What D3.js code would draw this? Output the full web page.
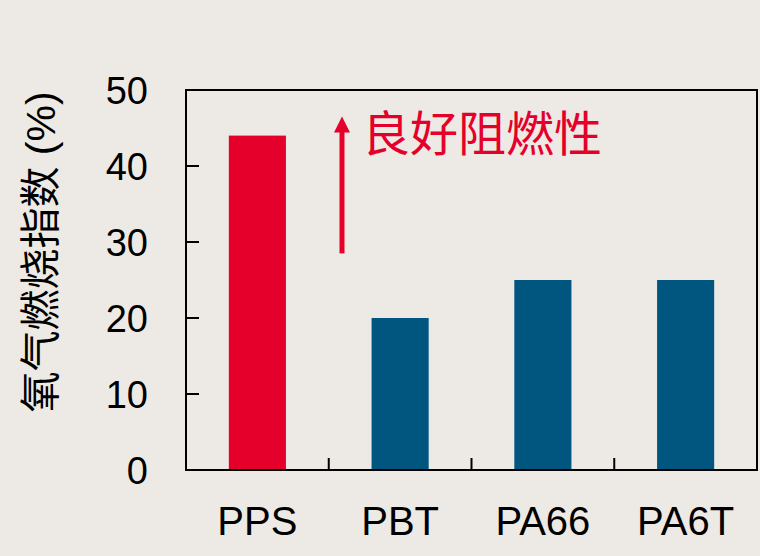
<!DOCTYPE html>
<meta charset="utf-8">
<style>
  body { margin: 0; background: #ede9e4; }
  svg { display: block; }
  text { font-family: "Liberation Sans", Arial, "Noto Sans CJK SC", sans-serif; fill: #000; }
</style>
<body>
<script src="https://d3js.org/d3.v7.min.js"></script>
<script>
  // data
  var materials = ["PPS", "PBT", "PA66", "PA6T"];
  var loi = [44, 20, 25, 25];
  var yTicks = [0, 10, 20, 30, 40, 50];
  var barColors = ["#e4002b", "#00567f", "#00567f", "#00567f"];
  var noteText = "良好阻燃性";
  var noteArrow = [28.5, 46.5]; // arrow from / to, in LOI units
  var yTitle = "氧气燃烧指数 (%)";

  var width = 760, height = 556;
  var margin = { top: 90, right: 3, bottom: 86, left: 186 };

  var svg = d3.select("body").append("svg")
      .attr("width", width)
      .attr("height", height);

  var x = d3.scaleBand()
      .domain(materials)
      .range([margin.left, width - margin.right])
      .paddingInner(0.6)
      .paddingOuter(0.3);

  var y = d3.scaleLinear()
      .domain([0, 50])
      .range([height - margin.bottom, margin.top]);

  // bars
  svg.selectAll("rect.bar")
    .data(materials)
    .enter().append("rect")
      .attr("class", "bar")
      .attr("x", function(d) { return x(d); })
      .attr("width", x.bandwidth())
      .attr("y", function(d, i) { return y(loi[i]); })
      .attr("height", function(d, i) { return y(0) - y(loi[i]); })
      .attr("fill", function(d, i) { return barColors[i]; });

  // frame
  svg.append("rect")
      .attr("x", margin.left)
      .attr("y", margin.top)
      .attr("width", width - margin.right - margin.left)
      .attr("height", height - margin.bottom - margin.top)
      .attr("fill", "none")
      .attr("stroke", "#000")
      .attr("stroke-width", 2);

  // y ticks (inside) and labels
  svg.selectAll("line.ytick")
    .data(yTicks.slice(1, -1))
    .enter().append("line")
      .attr("x1", margin.left).attr("x2", margin.left + 13)
      .attr("y1", function(d) { return y(d); })
      .attr("y2", function(d) { return y(d); })
      .attr("stroke", "#000").attr("stroke-width", 2);

  svg.selectAll("text.ylab")
    .data(yTicks)
    .enter().append("text")
      .attr("x", 148)
      .attr("y", function(d) { return y(d); })
      .attr("dy", "0.36em")
      .attr("text-anchor", "end")
      .style("font-size", "38px")
      .text(function(d) { return d; });

  // x ticks between categories
  var step = x.step();
  var bounds = materials.slice(1).map(function(d) {
    return x(d) - (step - x.bandwidth()) / 2;
  });
  svg.selectAll("line.xtick")
    .data(bounds)
    .enter().append("line")
      .attr("x1", function(d) { return d; })
      .attr("x2", function(d) { return d; })
      .attr("y1", y(0)).attr("y2", y(0) - 12)
      .attr("stroke", "#000").attr("stroke-width", 2);

  svg.selectAll("text.xlab")
    .data(materials)
    .enter().append("text")
      .attr("x", function(d) { return x(d) + x.bandwidth() / 2; })
      .attr("y", 535)
      .attr("text-anchor", "middle")
      .style("font-size", "40px")
      .text(function(d) { return d; });

  // y title
  svg.append("text")
      .attr("transform", "translate(41,252) rotate(-90)")
      .attr("text-anchor", "middle")
      .attr("dominant-baseline", "central")
      .style("font-size", "41px")
      .text(yTitle);

  // annotation arrow
  var ax = 342;
  svg.append("line")
      .attr("x1", ax).attr("x2", ax)
      .attr("y1", y(noteArrow[0])).attr("y2", y(noteArrow[1]) + 12)
      .attr("stroke", "#e4002b").attr("stroke-width", 5);
  svg.append("path")
      .attr("d", "M" + ax + "," + y(noteArrow[1]) + " L" + (ax - 8) + "," + (y(noteArrow[1]) + 16) +
                 " L" + (ax + 8) + "," + (y(noteArrow[1]) + 16) + " Z")
      .attr("fill", "#e4002b");

  svg.append("text")
      .attr("x", 362)
      .attr("y", 151)
      .style("font-size", "48px")
      .style("font-family", "'Noto Sans CJK SC', sans-serif")
      .style("fill", "#e4002b")
      .text(noteText);
</script>
</body>
